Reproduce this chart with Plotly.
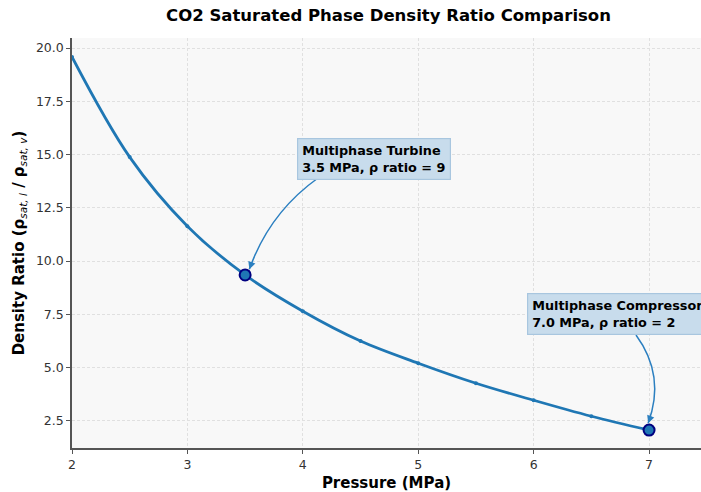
import math
import plotly.graph_objects as go

# ---------------- data ----------------
pressure = [2.0, 2.5, 3.0, 3.5, 4.0, 4.5, 5.0, 5.5, 6.0, 6.5, 7.0]
density_ratio = [19.58, 14.88, 11.64, 9.35, 7.65, 6.25, 5.21, 4.27, 3.47, 2.72, 2.07]

highlight_names = ["Multiphase Turbine", "Multiphase Compressor"]
highlight_pressure = [3.5, 7.0]
highlight_ratio = [9.35, 2.07]
highlight_ratio_label = [9, 2]

x_ticks = [2, 3, 4, 5, 6, 7]
y_ticks = [2.5, 5.0, 7.5, 10.0, 12.5, 15.0, 17.5, 20.0]

# ---------------- layout geometry ----------------
W_FIG, H_FIG = 701, 492
M_L, M_R, M_T, M_B = 72, 0, 38, 44
PW, PH = W_FIG - M_L - M_R, H_FIG - M_T - M_B
XR = [2.0, 7.45]
YR = [1.23, 20.47]


def x_to_px(x):
    return M_L + (x - XR[0]) / (XR[1] - XR[0]) * PW


def y_to_py(y):
    return M_T + (YR[1] - y) / (YR[1] - YR[0]) * PH


def px_to_x(px):
    return XR[0] + (px - M_L) / PW * (XR[1] - XR[0])


def py_to_y(py):
    return YR[1] - (py - M_T) / PH * (YR[1] - YR[0])


LINE_BLUE = "#1f77b4"
ARROW_BLUE = "#2b7fc0"
FONT = "DejaVu Sans"

fig = go.Figure()

fig.add_trace(go.Scatter(
    x=pressure, y=density_ratio, mode="lines+markers",
    line=dict(color=LINE_BLUE, width=2.8, shape="spline", smoothing=1.0),
    marker=dict(size=4, color=LINE_BLUE),
    showlegend=False, hoverinfo="skip"))

fig.add_trace(go.Scatter(
    x=highlight_pressure, y=highlight_ratio, mode="markers",
    marker=dict(size=11, color=LINE_BLUE, line=dict(color="#000080", width=2)),
    showlegend=False, hoverinfo="skip"))

# annotation boxes (top-left corner in pixels) and curved arrows
box_px = [(297, 138), (527, 293)]
arrow_start_px = [(318, 178), (636, 335)]
bow_px = [18, -24]

shapes = []
annotations = []
for i in range(len(highlight_names)):
    bx, by = box_px[i]
    annotations.append(dict(
        x=px_to_x(bx), y=py_to_y(by), xref="x", yref="y",
        xanchor="left", yanchor="top", align="left", showarrow=False,
        text=f"<b>{highlight_names[i]}<br>{highlight_pressure[i]:.1f} MPa, ρ ratio = {highlight_ratio_label[i]}</b>",
        font=dict(family=FONT, size=12.8, color="black"),
        bgcolor="#c8dcec", bordercolor="#a8c6df", borderwidth=1.2, borderpad=4))

    sx, sy = arrow_start_px[i]
    cxp, cyp = x_to_px(highlight_pressure[i]), y_to_py(highlight_ratio[i])
    dx, dy = sx - cxp, sy - cyp
    L = math.hypot(dx, dy)
    tx, ty = cxp + dx / L * 7, cyp + dy / L * 7
    mx, my = (sx + tx) / 2, (sy + ty) / 2
    ddx, ddy = tx - sx, ty - sy
    dl = math.hypot(ddx, ddy)
    qx, qy = mx + bow_px[i] * (-ddy) / dl, my + bow_px[i] * (ddx) / dl
    path = (f"M {px_to_x(sx)},{py_to_y(sy)} "
            f"Q {px_to_x(qx)},{py_to_y(qy)} {px_to_x(tx)},{py_to_y(ty)}")
    shapes.append(dict(type="path", path=path, xref="x", yref="y",
                       line=dict(color=ARROW_BLUE, width=1.5)))
    ux, uy = qx - tx, qy - ty
    ul = math.hypot(ux, uy)
    annotations.append(dict(
        x=px_to_x(tx), y=py_to_y(ty), xref="x", yref="y", text="",
        showarrow=True, arrowhead=2, arrowsize=1.0, arrowwidth=1.5,
        arrowcolor=ARROW_BLUE, ax=ux / ul * 9, ay=uy / ul * 9, standoff=0))

fig.update_layout(
    width=W_FIG, height=H_FIG,
    margin=dict(l=M_L, r=M_R, t=M_T, b=M_B),
    paper_bgcolor="white", plot_bgcolor="#f8f8f8",
    font=dict(family=FONT, size=12.5, color="#333333"),
    title=dict(text="<b>CO2 Saturated Phase Density Ratio Comparison</b>",
               x=388.5 / W_FIG, xanchor="center",
               y=1 - 15 / H_FIG, yanchor="middle",
               font=dict(family=FONT, size=16.5, color="black")),
    shapes=shapes, annotations=annotations,
)

grid_kw = dict(showgrid=True, gridcolor="#e0e0e0", griddash="3px,2px", gridwidth=0.8,
               showline=True, linecolor="#555555", linewidth=1.5,
               ticks="outside", ticklen=4, tickcolor="#555555", zeroline=False,
               tickfont=dict(family=FONT, size=12.5, color="#333333"))

fig.update_xaxes(
    range=XR, tickvals=x_ticks, ticktext=[str(v) for v in x_ticks], **grid_kw,
    title=dict(text="<b>Pressure (MPa)</b>", standoff=7,
               font=dict(family=FONT, size=15, color="black")))

fig.update_yaxes(
    range=YR, tickvals=y_ticks, ticktext=[f"{v:.1f}" for v in y_ticks], **grid_kw,
    title=dict(text="<b>Density Ratio (ρ</b><sub><i>sat, l</i></sub><b> / ρ</b><sub><i>sat, v</i></sub><b>)</b>",
               standoff=8, font=dict(family=FONT, size=15, color="black")))

fig.write_html("out.html")
